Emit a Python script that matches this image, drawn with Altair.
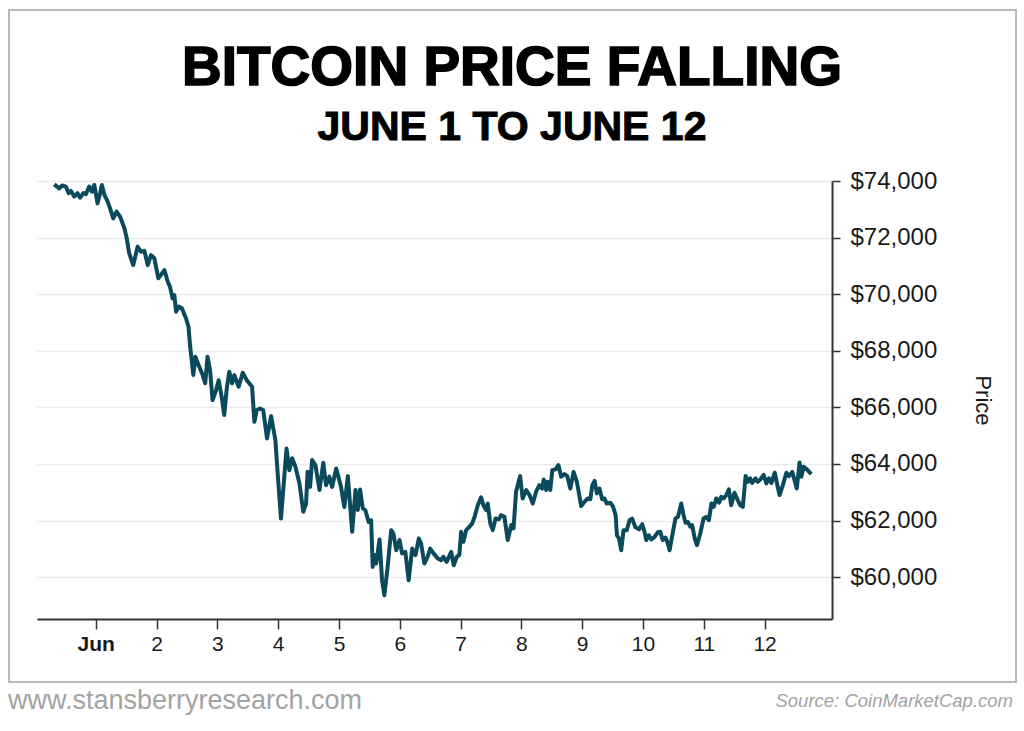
import altair as alt
import pandas as pd

# Hourly-ish BTC price samples: hours measured from 2024-06-01 00:00, price in USD
hours = [
    -16.4, -14.4, -13.3, -11.8, -10.7, -9.8, -8.5, -7.2, -6.2, -4.9, -3.9, -2.6, -1.5, -0.6,
    0.7, 1.7, 2.4, 3.4, 4.7, 5.6, 6.9, 8.2, 9.6, 11.3, 12.2, 13.2, 14.8, 16.5, 17.8, 19.2,
    20.5, 21.8, 23.1, 24.7, 25.7, 27.1, 28.4, 29.3, 30.3, 31.0, 31.7, 32.7, 34.0, 35.6,
    36.6, 37.2, 38.5, 39.3, 40.6, 42.2, 43.2, 44.1, 45.1, 46.1, 47.5, 48.5, 49.7, 50.7,
    51.7, 52.7, 53.8, 54.7, 56.4, 58.0, 59.6, 61.7, 62.6, 63.5, 64.8, 66.1, 67.6, 69.2,
    70.9, 71.8, 73.1, 74.0, 75.3, 76.4, 77.5, 78.8, 80.4, 81.9, 83.0, 83.6, 84.6, 85.4,
    86.7, 88.3, 89.8, 90.9, 92.2, 93.3, 94.9, 96.8, 98.1, 99.5, 101.2, 102.5, 103.4, 104.3,
    105.4, 106.4, 107.7, 108.7, 109.3, 110.0, 110.7, 112.0, 113.0, 113.9, 115.2, 116.6,
    117.5, 118.6, 119.9, 120.9, 122.2, 123.5, 124.9, 126.2, 127.5, 128.4, 129.7, 131.0,
    132.0, 133.3, 135.0, 136.3, 137.2, 138.5, 140.3, 141.3, 142.5, 143.5, 144.2, 145.1,
    146.2, 147.5, 148.6, 149.5, 150.8, 152.1, 153.0, 154.1, 154.7, 155.7, 156.7, 157.8,
    159.1, 160.0, 161.3, 162.6, 164.0, 164.9, 165.9, 167.5, 168.5, 169.9, 171.2, 172.5,
    173.8, 175.1, 176.2, 176.8, 177.8, 178.4, 179.4, 180.2, 181.5, 182.6, 183.7, 185.0,
    186.1, 187.3, 188.6, 189.9, 191.6, 192.9, 194.2, 195.2, 196.0, 196.9, 197.8, 198.8,
    199.9, 200.8, 201.7, 203.1, 204.1, 205.2, 205.7, 206.5, 207.4, 208.3, 209.6, 210.7,
    211.7, 213.0, 214.4, 215.7, 216.6, 217.3, 218.3, 219.3, 220.5, 221.9, 222.8, 223.8,
    224.9, 225.8, 226.5, 227.8, 228.8, 229.8, 231.1, 232.0, 232.8, 233.7, 234.7, 235.4,
    236.4, 237.3, 238.6, 239.9, 241.0, 242.0, 243.0, 243.9, 244.9, 246.0, 246.9, 247.8,
    248.9, 249.9, 250.8, 252.1, 253.4, 254.4, 255.4, 256.5, 257.4, 258.3, 259.1, 260.4,
    261.3, 262.3, 263.6, 264.7, 265.7, 266.7, 268.0, 268.9, 269.9, 271.2, 272.6, 273.6,
    274.9, 275.8, 276.7, 277.8, 278.5, 279.4, 280.7, 282.4,
]

prices = [
    73880, 73740, 73840, 73800, 73570, 73650, 73450, 73570, 73410, 73570, 73530, 73800, 73620, 73860,
    73210, 73570, 73860, 73510, 73270, 73040, 72680, 72920, 72740, 72330, 71980, 71440, 71030, 71680, 71500, 71530,
    71030, 71380, 71270, 70560, 70680, 70850, 70440, 70260, 69850, 69970, 69380, 69560, 69500, 69150,
    68850, 68200, 67140, 67790, 67490, 67140, 66850, 67790, 67320, 66260, 66610, 66960, 66370, 65730,
    66670, 67260, 66850, 67140, 66730, 67220, 66960, 66730, 65490, 65900, 65960, 65900, 64900, 65690,
    64840, 63670, 62070, 63080, 64550, 63780, 64200, 63900, 63310, 62310, 62600, 63720, 63190, 64140,
    63960, 63080, 64040, 63250, 63550, 63190, 63840, 63190, 62480, 63570, 61600, 63080, 62370, 63100,
    62430, 62370, 61950, 62010, 60360, 60780, 60480, 61330, 59890, 59360, 60360, 61660,
    61540, 60950, 61310, 60840, 60890, 59890, 61010, 60780, 61370, 61190, 60480, 60720,
    61010, 60840, 60660, 60600, 60720, 60540, 60890, 60420, 60720, 60780, 61600, 61250,
    61660, 61780, 61900, 62130, 62540, 62820, 62540, 62370, 62600, 61900, 61660, 62070,
    62040, 62190, 62130, 61310, 61840, 61720, 63020, 63570, 62780, 63080, 62900, 62600,
    63020, 63250, 63130, 63450, 63080, 63370, 63080, 63780, 63810, 63960, 63550, 63640,
    63570, 63130, 63720, 63370, 62510, 62660, 62780, 62750, 63250, 63400, 62960, 63130,
    62750, 62780, 62600, 62630, 62510, 62190, 61480, 61370, 60950, 61660, 61660, 62010,
    62070, 61760, 61690, 61870, 61600, 61310, 61480, 61330, 61410, 61590, 61600, 61310,
    61400, 61190, 60950, 61600, 62070, 62130, 62600, 62190, 61920, 61950, 61780, 61840,
    61370, 61130, 61540, 62070, 62130, 62010, 62600, 62480, 62780, 62630, 62840, 62780,
    62900, 63100, 62540, 62980, 62720, 62540, 62480, 63570, 63370, 63490, 63330, 63490,
    63370, 63450, 63610, 63310, 63490, 63330, 63690, 63310, 62900, 63250, 63690, 63570,
    63720, 63430, 63130, 64050, 63550, 63900, 63810, 63640,
]

tick_days = list(range(1, 13))
price_ticks = [60000, 62000, 64000, 66000, 68000, 70000, 72000, 74000]

title_text = "BITCOIN PRICE FALLING"
subtitle_text = "JUNE 1 TO JUNE 12"
site_text = "www.stansberryresearch.com"
source_text = "Source: CoinMarketCap.com"

df = pd.DataFrame({
    "time": pd.Timestamp("2024-06-01") + pd.to_timedelta(hours, unit="h"),
    "price": prices,
})

FONT = "Liberation Sans"
LINE_COLOR = "#0b4a5c"

line = alt.Chart(df).mark_line(color=LINE_COLOR, strokeWidth=4, strokeJoin="round").encode(
    x=alt.X(
        "time:T",
        scale=alt.Scale(domain=[
            alt.DateTime(year=2024, month=5, date=31, hours=0, minutes=48),
            alt.DateTime(year=2024, month=6, date=13, hours=2, minutes=36),
        ]),
        axis=alt.Axis(
            values=[alt.DateTime(year=2024, month=6, date=d) for d in tick_days],
            labelExpr="date(datum.value) == 1 ? 'Jun' : '' + date(datum.value)",
            labelFontWeight={"condition": {"test": "date(datum.value) == 1", "value": "bold"}, "value": "normal"},
            labelFont=FONT, labelFontSize=21, labelColor="#1a1a1a", labelPadding=4,
            tickSize=10, tickColor="#333333", tickWidth=1.5,
            domainColor="#333333", domainWidth=2,
            grid=False, title=None,
        ),
    ),
    y=alt.Y(
        "price:Q",
        scale=alt.Scale(domain=[58520, 74000], nice=False, zero=False),
        axis=alt.Axis(
            orient="right", values=price_ticks, format="$,.0f",
            labelFont=FONT, labelFontSize=24, labelColor="#1a1a1a", labelPadding=10,
            tickSize=8, tickColor="#333333", tickWidth=1.5,
            domainColor="#333333", domainWidth=2,
            grid=True, gridColor="#ebebeb", gridWidth=1.5,
            title="Price", titleFont=FONT, titleFontSize=22, titleFontWeight="normal",
            titleColor="#1a1a1a", titlePadding=34,
        ),
    ),
)

one = pd.DataFrame({"k": [0]})

frame = alt.Chart(one).mark_rect(fill=None, stroke="#b8b8b8", strokeWidth=2).encode(
    x=alt.value(-28), x2=alt.value(979), y=alt.value(-171), y2=alt.value(501)
)

title = alt.Chart(one).mark_text(
    text=title_text, font=FONT, fontSize=55, fontWeight="bold", color="#000000",
    stroke="#000000", strokeWidth=1.6, align="center", baseline="alphabetic",
).encode(x=alt.value(475), y=alt.value(-96))

subtitle = alt.Chart(one).mark_text(
    text=subtitle_text, font=FONT, fontSize=41, fontWeight="bold", color="#000000",
    stroke="#000000", strokeWidth=1.0, align="center", baseline="alphabetic",
).encode(x=alt.value(475), y=alt.value(-41))

site = alt.Chart(one).mark_text(
    text=site_text, font=FONT, fontSize=27, color="#a3a3a3",
    align="left", baseline="alphabetic",
).encode(x=alt.value(-29), y=alt.value(528))

source = alt.Chart(one).mark_text(
    text=source_text, font=FONT, fontSize=18.5, fontStyle="italic", color="#a3a3a3",
    align="right", baseline="alphabetic",
).encode(x=alt.value(976), y=alt.value(526))

chart = alt.layer(frame, line, title, subtitle, site, source).properties(
    width=795,
    height=438,
    autosize=alt.AutoSizeParams(type="none"),
    padding={"left": 37, "top": 181, "right": 192, "bottom": 112},
    background="white",
).configure_view(stroke=None)

chart.save("out.html", embed_options={"renderer": "svg", "actions": False})
